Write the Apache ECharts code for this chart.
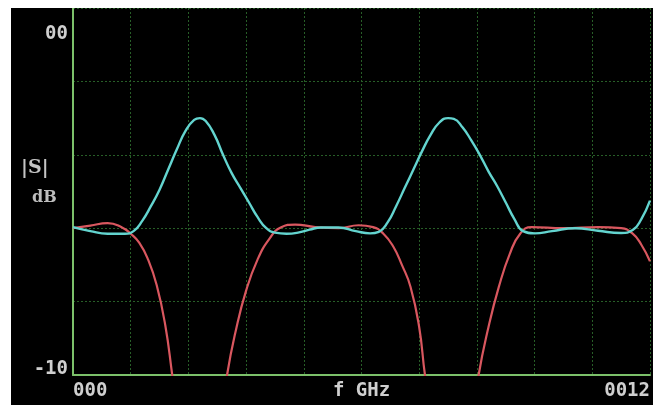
<!DOCTYPE html>
<html>
<head>
<meta charset="utf-8">
<script src="https://cdn.jsdelivr.net/npm/echarts@6/dist/echarts.min.js"></script>
<style>
html,body{margin:0;padding:0;background:#ffffff;}
#wrap{position:relative;width:653px;height:405px;background:#ffffff;overflow:hidden;}
#chart{position:absolute;left:11px;top:8px;width:642px;height:397px;background:#000000;}
</style>
</head>
<body>
<div id="wrap"><div id="chart"></div></div>
<script>
// Frequency positions (grid divisions, 0..10) and |S| in dB
const cyanFreq = [0.00,0.30,0.60,0.90,1.05,1.20,1.35,1.50,1.65,1.80,1.95,2.10,2.20,2.30,2.45,2.60,2.75,2.90,3.05,3.20,3.35,3.50,3.70,3.90,4.10,4.30,4.60,4.90,5.15,5.30,5.45,5.60,5.75,5.90,6.05,6.20,6.35,6.50,6.60,6.75,6.90,7.05,7.20,7.35,7.50,7.65,7.80,8.00,8.30,8.70,9.10,9.50,9.70,9.85,10.00];
const cyanDb   = [-5.97,-6.08,-6.15,-6.15,-6.08,-5.80,-5.40,-4.95,-4.40,-3.85,-3.35,-3.05,-3.00,-3.08,-3.45,-4.00,-4.50,-4.90,-5.30,-5.70,-6.00,-6.12,-6.15,-6.12,-6.04,-5.98,-5.98,-6.08,-6.14,-6.10,-5.85,-5.40,-4.90,-4.40,-3.90,-3.45,-3.12,-3.00,-3.02,-3.25,-3.60,-4.00,-4.45,-4.85,-5.30,-5.75,-6.08,-6.14,-6.08,-6.00,-6.07,-6.13,-6.05,-5.75,-5.25];

const redFreq = [0.00,0.30,0.60,0.85,1.00,1.15,1.30,1.45,1.60,1.72,1.85,2.00,2.20,2.40,2.55,2.67,2.82,3.00,3.20,3.40,3.60,3.85,4.20,4.60,4.95,5.20,5.38,5.55,5.70,5.85,6.00,6.10,6.25,6.40,6.57,6.75,6.90,7.03,7.20,7.38,7.57,7.75,7.95,8.50,9.10,9.50,9.70,9.85,10.00];
const redDb   = [-6.00,-5.93,-5.86,-5.98,-6.15,-6.40,-6.85,-7.55,-8.65,-10.00,-11.50,-12.80,-13.50,-12.80,-11.40,-10.00,-8.80,-7.70,-6.85,-6.30,-5.98,-5.90,-5.97,-6.00,-5.92,-5.97,-6.15,-6.50,-7.00,-7.60,-8.70,-10.00,-11.50,-12.80,-13.50,-12.80,-11.50,-10.00,-8.70,-7.60,-6.70,-6.15,-5.97,-6.00,-5.97,-6.00,-6.15,-6.45,-6.90];

const xTickLabels = {0: '000', 5: 'f GHz', 10: '0012'};
const yTickLabels = {0: '00', '-10': '-10'};

function pairs(xs, ys) { return xs.map((x, i) => [x, ys[i]]); }

const chart = echarts.init(document.getElementById('chart'), null, {renderer: 'canvas'});
const labelFont = '"DejaVu Sans Mono", monospace';
const gridLine = {show: true, lineStyle: {color: '#275e27', width: 1, type: [2, 2]}};
const axisLine = {show: true, onZero: false, lineStyle: {color: '#7cc06a', width: 2}};

chart.setOption({
  backgroundColor: '#000000',
  animation: false,
  grid: {left: 62, right: 0, top: 0, bottom: 30, containLabel: false},
  xAxis: {
    type: 'value', min: 0, max: 10, interval: 1,
    axisLine: axisLine,
    axisTick: {show: false},
    splitLine: gridLine,
    axisLabel: {
      color: '#cfcfcf', fontFamily: labelFont, fontWeight: 'bold', fontSize: 19,
      margin: 7, showMinLabel: true, showMaxLabel: true,
      alignMinLabel: 'left', alignMaxLabel: 'right',
      formatter: v => xTickLabels[v] || ''
    }
  },
  yAxis: {
    type: 'value', min: -10, max: 0, interval: 2,
    axisLine: axisLine,
    axisTick: {show: false},
    splitLine: gridLine,
    axisLabel: {
      color: '#cfcfcf', fontFamily: labelFont, fontWeight: 'bold', fontSize: 19,
      margin: 5, showMinLabel: true, showMaxLabel: true,
      formatter: v => {
        const t = yTickLabels[String(v)];
        if (!t) return '';
        return v === 0 ? '{t|' + t + '}' : '{b|' + t + '}';
      },
      rich: {
        t: {color: '#cfcfcf', fontFamily: labelFont, fontWeight: 'bold', fontSize: 19, padding: [52, 0, 0, 0]},
        b: {color: '#cfcfcf', fontFamily: labelFont, fontWeight: 'bold', fontSize: 19, padding: [0, 0, 12, 0]}
      }
    }
  },
  graphic: [
    {type: 'text', left: 10, top: 151, style: {text: '|S|', fill: '#c4c4c4', font: 'bold 19px "DejaVu Serif", serif'}},
    {type: 'text', left: 21, top: 182, style: {text: 'dB', fill: '#bdbdbd', font: 'bold 16px "DejaVu Serif", serif'}}
  ],
  series: [
    {
      type: 'line', data: pairs(redFreq, redDb), smooth: 0.5, showSymbol: false, clip: true,
      lineStyle: {color: '#d9575f', width: 2.2}
    },
    {
      type: 'line', data: pairs(cyanFreq, cyanDb), smooth: 0.5, showSymbol: false, clip: true,
      lineStyle: {color: '#63d4cf', width: 2.4}
    }
  ]
});
</script>
</body>
</html>
